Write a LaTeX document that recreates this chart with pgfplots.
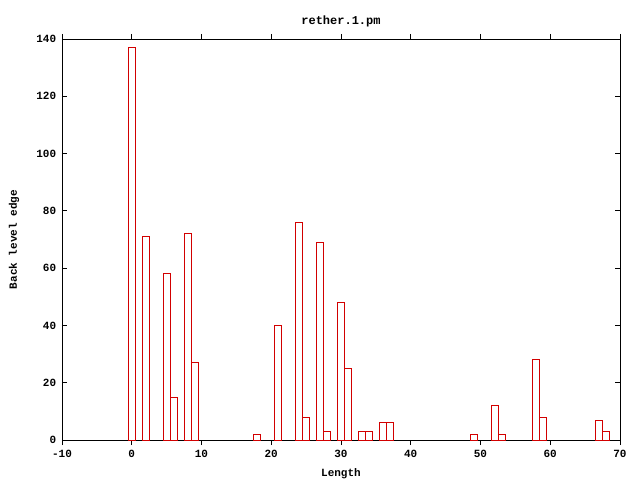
\documentclass[border=0pt]{standalone}
\usepackage{pgfplots}
\pgfplotsset{compat=1.18}
\usepackage{fontspec}
\setmainfont{Liberation Mono}
\definecolor{gpred}{RGB}{210,0,0}
\begin{document}
\fontsize{11bp}{13bp}\selectfont\bfseries
\begin{tikzpicture}
\path[use as bounding box] (-62bp,-40bp) rectangle (578bp,440bp);
\begin{axis}[
  at={(0,0)}, anchor=south west,
  scale only axis, width=558bp, height=401bp,
  xmin=-10, xmax=70, ymin=0, ymax=140,
  xtick={-10,0,...,70}, ytick={0,20,...,140},
  minor tick num=0,
  tick pos=both, tick align=inside,
  major tick length=5bp,
  axis line style={black, line width=0.8bp},
  tick style={black, line width=0.8bp},
  /pgf/number format/assume math mode=true,
  ticklabel style={font=\fontsize{11bp}{13bp}\selectfont\bfseries},
  xticklabel style={yshift=-1bp},
  yticklabel style={xshift=-2bp},
  title={rether.1.pm},
  title style={at={(axis description cs:0.5,1.022)}, anchor=base, font=\fontsize{12bp}{14bp}\selectfont\bfseries},
  xlabel={Length},
  xlabel style={at={(axis description cs:0.5,-0.0898)}, anchor=base},
  ylabel={Back level edge},
  ylabel style={at={(axis description cs:-0.086,0.5)}, anchor=center},
  ybar, bar width=1, bar shift=0pt,
]
\addplot[draw=gpred, fill=white, line width=0.8bp] coordinates {
(0,137)(2,71)(5,58)(6,15)(8,72)(9,27)(18,2)(21,40)(24,76)(25,8)(27,69)(28,3)(30,48)(31,25)(33,3)(34,3)(36,6)(37,6)(49,2)(52,12)(53,2)(58,28)(59,8)(67,7)(68,3)
};
\end{axis}
\end{tikzpicture}
\end{document}
